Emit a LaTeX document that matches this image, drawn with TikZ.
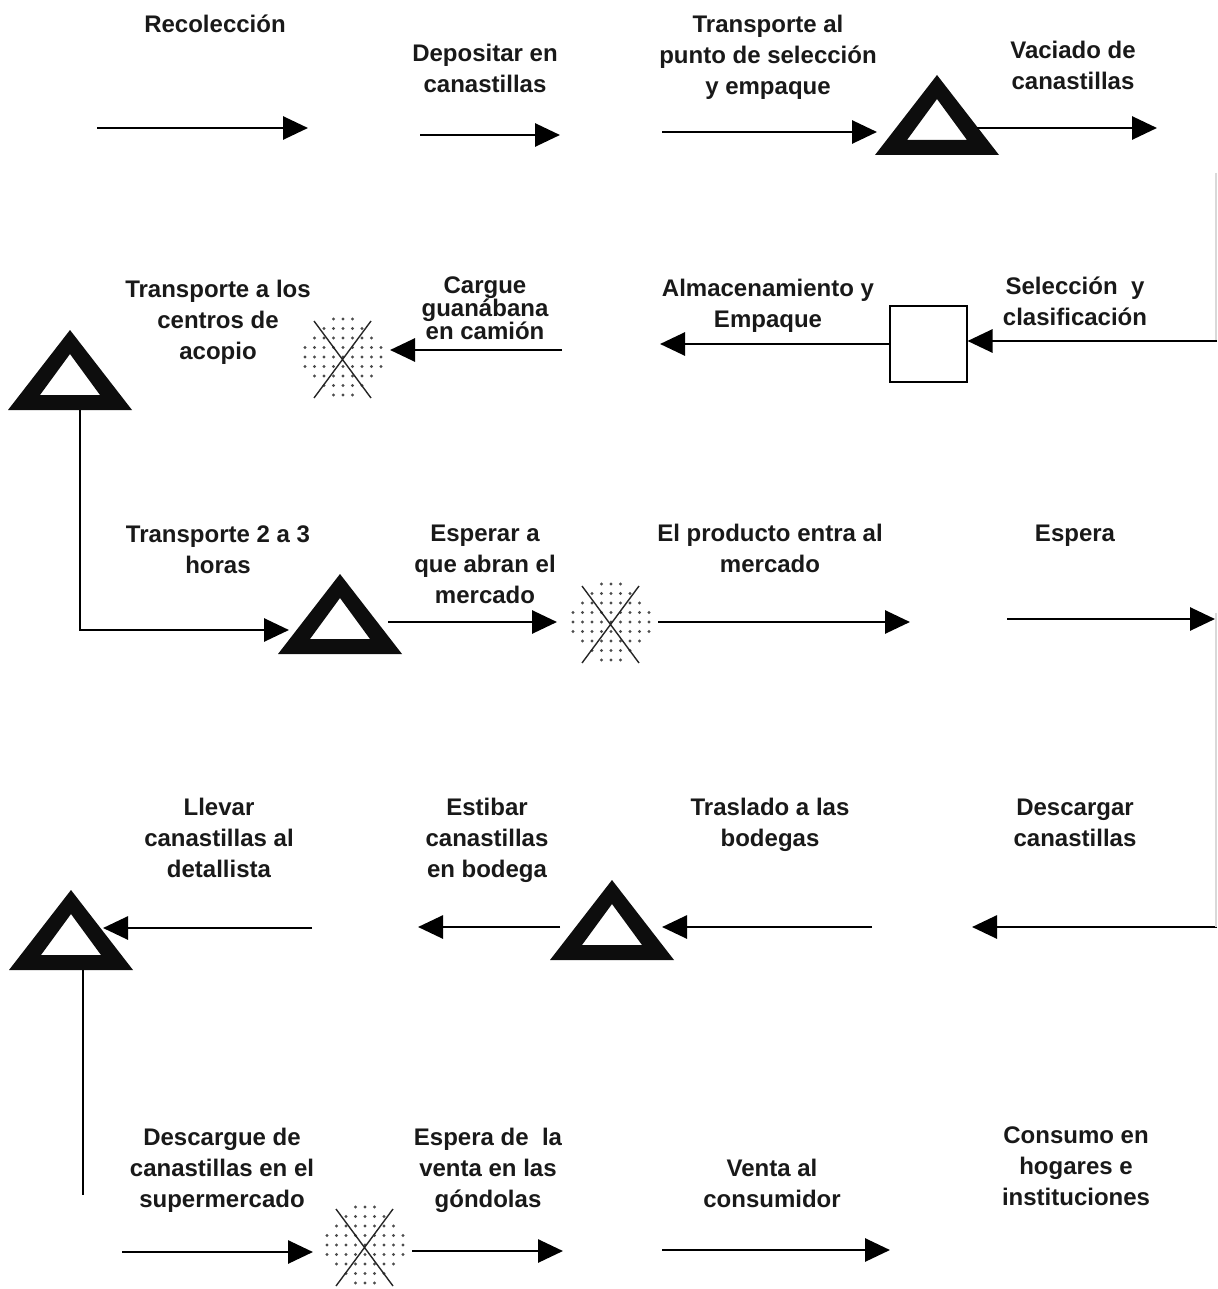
\documentclass[tikz,border=0pt]{standalone}
\usepackage{fontspec}
\setmainfont{Liberation Sans}
\usetikzlibrary{arrows.meta}

\tikzset{
  flecha/.style={line width=1.4pt, -{Triangle[length=12.5pt,width=11.5pt]}},
  linea/.style={line width=1.4pt},
  rotulo/.style={font=\bfseries\fontsize{12}{15.5}\selectfont, align=center,
    anchor=base, inner sep=0pt, text=black!90},
  transporte/.pic={
    \fill[black!95, even odd rule] (0,-40) -- (62,40) -- (-62,40) -- cycle
      (0,-16) -- (30,25) -- (-30,25) -- cycle;
  },
  demora/.pic={
    \foreach \i in {-4,...,4}
      \foreach \j in {-4,...,4}{
        \pgfmathtruncatemacro\d{\i*\i+\j*\j}
        \ifnum\d<18 \fill[black!70] (\i*9.5,\j*9.5) circle (0.8pt);\fi
      }
    \draw[line width=0.7pt, black!85] (-29,-36) -- (28,41) (28,-36) -- (-29,41);
  },
}

\begin{document}
\begin{tikzpicture}[x=0.5pt,y=-0.5pt]
  \useasboundingbox (0,0) rectangle (1217,1289);

  % textos (y = linea base de la ultima linea)
  \foreach \n/\x/\y/\t in {
      1/215/33/{Recolección},
      2/485/93/{Depositar en\\canastillas},
      3/768/95/{Transporte al\\punto de selección\\y empaque},
      4/1073/90/{Vaciado de\\canastillas},
      5/218/359/{Transporte a los\\centros de\\acopio},
      7/768/327/{Almacenamiento y\\Empaque},
      8/1075/325/{Selección\ \ y\\clasificación},
      9/218/573/{Transporte 2 a 3\\horas},
      10/485/603/{Esperar a\\que abran el\\mercado},
      11/770/572/{El producto entra al\\mercado},
      12/1075/541/{Espera},
      13/219/877/{Llevar\\canastillas al\\detallista},
      14/487/877/{Estibar\\canastillas\\en bodega},
      15/770/846/{Traslado a las\\bodegas},
      16/1075/846/{Descargar\\canastillas},
      17/222/1207/{Descargue de\\canastillas en el\\supermercado},
      18/488/1207/{Espera de\ \ la\\venta en las\\góndolas},
      19/772/1207/{Venta al\\consumidor},
      20/1076/1205/{Consumo en\\hogares e\\instituciones}}
    \node[rotulo] (l\n) at (\x,\y) {\t};
  \node[rotulo, font=\bfseries\fontsize{12}{11.5}\selectfont] (l6) at (485,339)
    {Cargue\\guanábana\\en camión};

  % simbolos
  \coordinate (t1) at (937,115);
  \coordinate (t2) at (70,370);
  \coordinate (t3) at (340,614);
  \coordinate (t4) at (612,920);
  \coordinate (t5) at (71,930);
  \pic at (t1) {transporte};
  \pic at (t2) {transporte};
  \pic at (t3) {transporte};
  \pic at (t4) {transporte};
  \pic at (t5) {transporte};
  \coordinate (d1) at (343,357);
  \coordinate (d2) at (611,622);
  \coordinate (d3) at (365,1245);
  \pic at (d1) {demora};
  \pic at (d2) {demora};
  \pic at (d3) {demora};
  \node[draw, line width=1pt, minimum width=38.5pt, minimum height=38pt,
    inner sep=0pt] (caja) at (928,344) {};

  % flechas
  \foreach \n/\xa/\xb/\y in {1/97/308/128, 2/420/560/135, 3/662/877/132,
      4/977/1157/128, 7/562/390/350, 9/388/557/622, 10/658/910/622,
      11/1007/1215/619, 12/1217/972/927, 13/872/662/927, 14/560/418/927,
      15/312/103/928, 16/122/313/1252, 17/412/563/1251, 18/662/890/1250}{
    \coordinate (a\n) at (\xa,\y);
    \coordinate (b\n) at (\xb,\y);
    \draw[flecha] (a\n) -- (b\n);
  }
  \coordinate (a5) at (1217,341);
  \draw[flecha] (a5) -- (a5 -| caja.east);
  \coordinate (b6) at (660,345);
  \draw[flecha] (caja.west) -- (caja.west -| b6);
  \coordinate (t2pie) at (80,410);
  \coordinate (t3ent) at (289,630);
  \draw[flecha] (t2pie) |- (t3ent);
  \coordinate (t5pie) at (83,970);
  \coordinate (t5fin) at (83,1195);
  \draw[linea] (t5pie) -- (t5fin);

  % borde derecho
  \coordinate (e1) at (1216,173);
  \coordinate (e2) at (1216,340);
  \coordinate (e3) at (1216,613);
  \coordinate (e4) at (1216,927);
  \draw[gray!30, line width=0.6pt] (e1) -- (e2) (e3) -- (e4);
\end{tikzpicture}
\end{document}
